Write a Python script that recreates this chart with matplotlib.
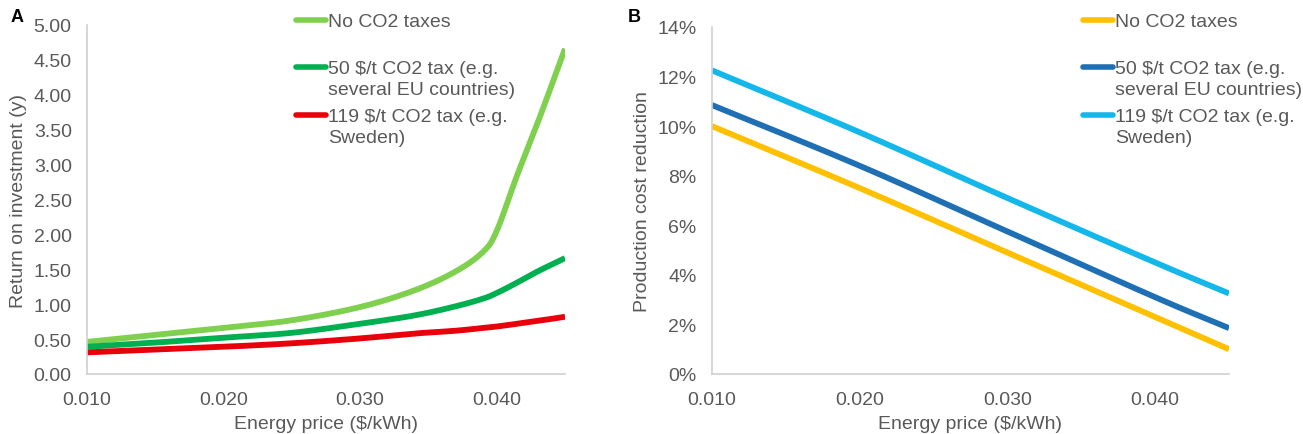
import matplotlib.pyplot as plt
import numpy as np

plt.rcParams['font.family'] = ['Liberation Sans', 'DejaVu Sans']

# Panel A: return on investment (years) vs energy price
price_a = [0.010, 0.015, 0.020, 0.025, 0.030, 0.034, 0.037, 0.039, 0.040, 0.0415, 0.043, 0.045]
roi_no_tax = [0.46, 0.56, 0.66, 0.77, 0.96, 1.20, 1.47, 1.75, 2.05, 2.85, 3.60, 4.66]
roi_tax_50 = [0.39, 0.45, 0.52, 0.59, 0.72, 0.84, 0.97, 1.08, 1.16, 1.31, 1.47, 1.66]
roi_tax_119 = [0.31, 0.35, 0.39, 0.44, 0.51, 0.58, 0.62, 0.66, 0.68, 0.72, 0.76, 0.82]

# Panel B: production cost reduction (%) vs energy price
price_b = [0.010, 0.020, 0.030, 0.040, 0.045]
red_no_tax = [10.0, 7.5, 4.9, 2.3, 1.0]
red_tax_50 = [10.85, 8.4, 5.75, 3.1, 1.85]
red_tax_119 = [12.25, 9.75, 7.1, 4.5, 3.25]

labels = ["No CO2 taxes",
          "50 $/t CO2 tax (e.g.\nseveral EU countries)",
          "119 $/t CO2 tax (e.g.\nSweden)"]
colors_a = ['#7ed04e', '#00b050', '#e8000b']
colors_b = ['#ffc000', '#1f6fb4', '#14b7ea']

W, H = 1303, 435
fig = plt.figure(figsize=(W / 100, H / 100), dpi=100)
txt = '#595959'
spine = '#d0d0d0'
fs = 14


def smooth(x, y, xr, yr, n=24):
    # Catmull-Rom spline through the points, like a spreadsheet "smoothed line"
    x = (np.asarray(x) - xr[0]) / (xr[1] - xr[0])
    y = (np.asarray(y) - yr[0]) / (yr[1] - yr[0])
    p = np.column_stack([x, y])
    p = np.vstack([2 * p[0] - p[1], p, 2 * p[-1] - p[-2]])
    out = []
    t = np.linspace(0, 1, n, endpoint=False)[:, None]
    for i in range(1, len(p) - 2):
        p0, p1, p2, p3 = p[i - 1], p[i], p[i + 1], p[i + 2]
        seg = 0.5 * ((2 * p1) + (-p0 + p2) * t + (2 * p0 - 5 * p1 + 4 * p2 - p3) * t ** 2
                     + (-p0 + 3 * p1 - 3 * p2 + p3) * t ** 3)
        out.append(seg)
    out.append(p[-2][None, :])
    out = np.vstack(out)
    return out[:, 0] * (xr[1] - xr[0]) + xr[0], out[:, 1] * (yr[1] - yr[0]) + yr[0]


def style(ax):
    for s in ['top', 'right']:
        ax.spines[s].set_visible(False)
    for s in ['left', 'bottom']:
        ax.spines[s].set_color(spine)
        ax.spines[s].set_linewidth(1.2)
    ax.tick_params(length=0, labelsize=fs, labelcolor=txt)
    ax.tick_params(axis='y', pad=11)
    ax.tick_params(axis='x', pad=12)


def legend(x0, colors):
    ys = [21, 68, 116]
    for y, c, lab in zip(ys, colors, labels):
        fig.add_artist(plt.Line2D([x0 / W, (x0 + 30) / W], [1 - y / H, 1 - y / H],
                                  color=c, lw=4, solid_capstyle='round'))
        fig.text((x0 + 32) / W, 1 - (y - 7) / H, lab, fontsize=fs, color=txt,
                 va='top', ha='left', linespacing=1.32)


xr = (0.010, 0.045)

axA = fig.add_axes([87 / W, 60 / H, 478 / W, 349 / H])
for y, c in zip([roi_no_tax, roi_tax_50, roi_tax_119], colors_a):
    sx, sy = smooth(price_a, y, xr, (0, 5))
    axA.plot(sx, sy, color=c, lw=4.2, solid_capstyle='butt')
axA.set_xlim(*xr)
axA.set_ylim(0, 5)
axA.set_xticks([0.010, 0.020, 0.030, 0.040])
axA.set_xticklabels(['0.010', '0.020', '0.030', '0.040'])
axA.set_yticks(np.arange(0, 5.01, 0.5))
axA.set_yticklabels(['%.2f' % v for v in np.arange(0, 5.01, 0.5)])
axA.set_xlabel('Energy price ($/kWh)', fontsize=fs, color=txt, labelpad=5)
axA.set_ylabel('Return on investment (y)', fontsize=fs, color=txt, labelpad=5)
style(axA)

axB = fig.add_axes([712 / W, 60 / H, 517 / W, 347 / H])
for y, c in zip([red_no_tax, red_tax_50, red_tax_119], colors_b):
    sx, sy = smooth(price_b, y, xr, (0, 14))
    axB.plot(sx, sy, color=c, lw=4.2, solid_capstyle='butt')
axB.set_xlim(*xr)
axB.set_ylim(0, 14)
axB.set_xticks([0.010, 0.020, 0.030, 0.040])
axB.set_xticklabels(['0.010', '0.020', '0.030', '0.040'])
axB.set_yticks(range(0, 15, 2))
axB.set_yticklabels(['%d%%' % v for v in range(0, 15, 2)])
axB.set_xlabel('Energy price ($/kWh)', fontsize=fs, color=txt, labelpad=5)
axB.set_ylabel('Production cost reduction', fontsize=fs, color=txt, labelpad=5)
style(axB)

legend(296, colors_a)
legend(1083, colors_b)

fig.text(11 / W, 1 - 18 / H, 'A', fontsize=13, fontweight='bold', va='center')
fig.text(628 / W, 1 - 18 / H, 'B', fontsize=13, fontweight='bold', va='center')

fig.savefig('out.png', dpi=100)
